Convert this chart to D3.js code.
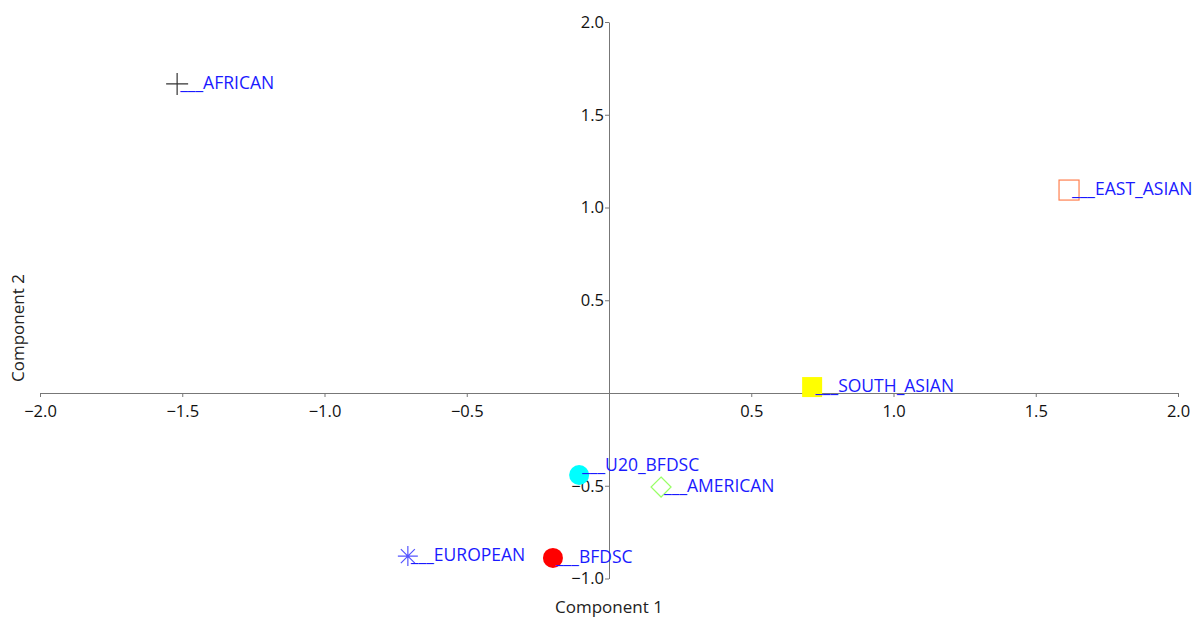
<!DOCTYPE html>
<html>
<head>
<meta charset="utf-8">
<script src="https://cdn.jsdelivr.net/npm/d3@7"></script>
<style>
  body { margin: 0; background: #fff; }
  text { font-family: "Open Sans", "Noto Sans", sans-serif; }
</style>
</head>
<body>
<svg id="chart"></svg>
<script>
const width = 1198;
const height = 619;
// population names, component 1 and 2 scores
const names = ["AFRICAN", "EAST_ASIAN", "SOUTH_ASIAN", "U20_BFDSC", "AMERICAN", "EUROPEAN", "BFDSC"];
const comp1 = [-1.518, 1.617, 0.714, -0.105, 0.183, -0.707, -0.197];
const comp2 = [1.666, 1.094, 0.032, -0.442, -0.507, -0.879, -0.889];
const markers = ["plus", "square", "squareFilled", "circle", "diamond", "asterisk", "circle"];
const markerColors = ["#333333", "#ff8050", "#ffff00", "#00ffff", "#99ff66", "#5555ff", "#ff0000"];
const xTicks = [-2.0, -1.5, -1.0, -0.5, 0.5, 1.0, 1.5, 2.0];
const yTicks = [-1.0, -0.5, 0.5, 1.0, 1.5, 2.0];

const svg = d3.select("#chart")
    .attr("width", width)
    .attr("height", height);

const x = d3.scaleLinear().domain([-2, 2]).range([40, 1178]);
const y = d3.scaleLinear().domain([-1, 2]).range([578.5, 22]);

const axisColor = "#777";
const fmt = d3.format(".1f");
const minus = s => s.replace("-", "\u2212");

// x axis through y = 0
const xAxis = svg.append("g")
    .attr("transform", `translate(0, ${y(0)})`)
    .call(d3.axisBottom(x).tickValues(xTicks).tickSize(4).tickSizeOuter(0).tickFormat(d => minus(fmt(d))));
xAxis.select(".domain").attr("stroke", axisColor);
xAxis.selectAll(".tick line").attr("stroke", axisColor);
xAxis.selectAll(".tick text").attr("font-size", 16.5).attr("fill", "#111").attr("dy", "1.05em");

// y axis through x = 0
const yAxis = svg.append("g")
    .attr("transform", `translate(${x(0)}, 0)`)
    .call(d3.axisLeft(y).tickValues(yTicks).tickSize(4).tickSizeOuter(0).tickFormat(d => minus(fmt(d))));
yAxis.select(".domain").attr("stroke", axisColor);
yAxis.selectAll(".tick line").attr("stroke", axisColor);
yAxis.selectAll(".tick text").attr("font-size", 16.5).attr("fill", "#111").attr("x", -5);

// axis titles
svg.append("text")
    .attr("x", x(0))
    .attr("y", 613)
    .attr("text-anchor", "middle")
    .attr("font-size", 17)
    .attr("fill", "#222")
    .text("Component 1");
svg.append("text")
    .attr("transform", `translate(24, ${328}) rotate(-90)`)
    .attr("text-anchor", "middle")
    .attr("font-size", 17)
    .attr("fill", "#222")
    .text("Component 2");

// points
const data = names.map((d, i) => ({ name: d, c1: comp1[i], c2: comp2[i], marker: markers[i], color: markerColors[i] }));

const drawMarker = (g, d) => {
    const c = d.color;
    if (d.marker === "circle") {
        g.append("circle").attr("r", 10).attr("fill", c);
    } else if (d.marker === "square") {
        g.append("rect").attr("x", -10).attr("y", -10).attr("width", 20).attr("height", 20)
            .attr("fill", "none").attr("stroke", c).attr("stroke-width", 1.2);
    } else if (d.marker === "squareFilled") {
        g.append("rect").attr("x", -10).attr("y", -10).attr("width", 20).attr("height", 20).attr("fill", c);
    } else if (d.marker === "diamond") {
        g.append("path").attr("d", "M0,-10L10,0L0,10L-10,0Z")
            .attr("fill", "none").attr("stroke", c).attr("stroke-width", 1.2);
    } else if (d.marker === "plus") {
        g.append("path").attr("d", "M-11,0H11M0,-11V11")
            .attr("stroke", c).attr("stroke-width", 1.2);
    } else if (d.marker === "asterisk") {
        g.append("path").attr("d", "M-10,0H10M0,-10V10M-7,-7L7,7M-7,7L7,-7")
            .attr("stroke", c).attr("stroke-width", 1.2);
    }
};

const pts = svg.append("g")
    .selectAll("g")
    .data(data)
    .enter()
    .append("g")
    .attr("transform", d => `translate(${x(d.c1)}, ${y(d.c2)})`);

pts.each(function (d) { drawMarker(d3.select(this), d); });

// label nudged up when it would collide with a neighbouring label just below it
const labelDy = d => data.some(o => o !== d && y(o.c2) - y(d.c2) > 0 && y(o.c2) - y(d.c2) < 20
    && Math.abs(x(o.c1) - x(d.c1)) < 120) ? -4 : 5;

pts.append("text")
    .attr("x", 3)
    .attr("y", labelDy)
    .attr("font-size", 17.5)
    .attr("fill", "#1a1aff")
    .text(d => "___" + d.name);
</script>
</body>
</html>
